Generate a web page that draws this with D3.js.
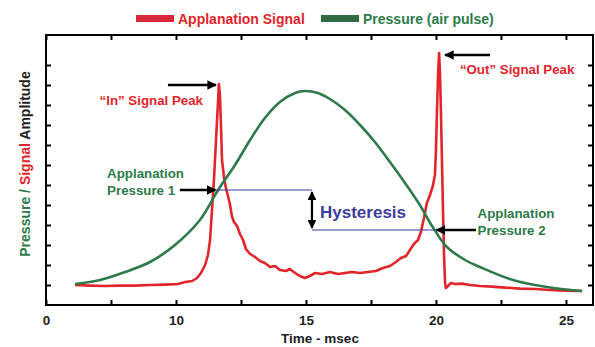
<!DOCTYPE html>
<html><head><meta charset="utf-8">
<script src="https://cdn.jsdelivr.net/npm/d3@7"></script>
<style>
html,body{margin:0;padding:0;background:#fff;}
svg{display:block;font-family:"Liberation Sans",Arial,Helvetica,sans-serif;}
</style></head>
<body>
<svg id="chart" width="595" height="347"></svg>
<script>
// ---- data ----
const seriesNames = ["Applanation Signal", "Pressure (air pulse)"];
const xTickValues = [5, 7.5, 10, 12.5, 15, 17.5, 20, 22.5, 25];
const xTickLabels = ["0", "", "10", "", "15", "", "20", "", "25"];
const yTickValues = [1,2,3,4,5,6,7,8,9,10,11,12];

const redTime = [6.12,6.69,7.27,7.85,8.42,9.0,9.58,10.08,10.35,10.62,10.81,10.96,11.12,11.23,11.31,11.38,11.46,11.54,11.62,11.65,11.69,11.73,11.77,11.85,11.92,12.0,12.08,12.15,12.23,12.35,12.46,12.58,12.69,12.85,13.04,13.23,13.42,13.62,13.81,14.0,14.23,14.38,14.58,14.77,14.96,15.15,15.35,15.62,15.92,16.23,16.5,16.77,17.08,17.38,17.69,17.96,18.23,18.46,18.65,18.85,19.0,19.15,19.31,19.42,19.54,19.65,19.77,19.88,19.96,20.0,20.04,20.08,20.12,20.15,20.19,20.23,20.27,20.31,20.35,20.38,20.46,20.58,20.73,21.0,21.31,21.69,22.15,22.65,23.23,23.81,24.38,24.96,25.62];
const redAmp  = [1.0,0.97,0.95,0.97,0.97,1.0,1.02,1.05,1.15,1.2,1.35,1.6,2.0,2.5,3.25,4.65,6.25,8.25,10.25,11.05,10.5,9.0,7.25,6.35,5.85,5.45,5.0,4.45,4.15,3.95,3.55,3.25,2.8,2.55,2.4,2.2,2.1,1.9,1.95,1.75,1.7,1.8,1.6,1.45,1.35,1.45,1.6,1.55,1.65,1.55,1.6,1.65,1.6,1.65,1.7,1.85,1.95,2.15,2.35,2.45,2.75,3.05,3.25,3.65,4.35,5.1,5.5,5.95,6.5,7.75,9.75,11.5,12.6,11.75,9.75,7.25,4.75,2.5,1.1,0.85,0.95,1.1,1.05,1.07,1.0,0.95,0.92,0.87,0.82,0.8,0.75,0.72,0.7];

const greenTime = [6.12,7.08,8.04,9.0,9.96,10.92,11.62,12.27,12.85,13.42,14.0,14.58,14.96,15.46,15.92,16.5,17.08,17.65,18.23,18.81,19.38,19.85,20.42,21.12,21.69,22.96,24.27,25.62];
const greenAmp  = [1.05,1.25,1.65,2.15,3.0,4.25,5.75,7.0,8.25,9.35,10.15,10.6,10.7,10.6,10.3,9.75,9.0,8.15,7.15,6.1,5.0,3.95,2.9,2.25,1.9,1.25,0.9,0.7];

const inPeak = {t: 11.65, v: 11.0};
const outPeak = {t: 20.12, v: 12.5};
const appPressure = [5.75, 3.75];
const appTimes = [11.54, 20.0];

// ---- layout ----
const W = 595, H = 347;
const L = 46, R = 593, T = 35, B = 305;
const RED = "#e2252b", GREEN = "#2e7a4b", BLUE = "#3c3c9c";

const svg = d3.select("#chart");
const x = d3.scaleLinear().domain([5, 26.04]).range([L, R]);
const y = d3.scaleLinear().domain([0, 13.5]).range([B, T]);

const defs = svg.append("defs");
defs.append("marker").attr("id","ah").attr("viewBox","0 0 10 10")
  .attr("refX",9).attr("refY",5).attr("markerWidth",4).attr("markerHeight",4)
  .attr("orient","auto-start-reverse")
  .append("path").attr("d","M0,0L10,5L0,10Z").attr("fill","#000");

// axes (inward ticks)
const fmt = d => xTickLabels[xTickValues.indexOf(d)];
const gx = svg.append("g").attr("transform",`translate(0,${B})`)
  .call(d3.axisBottom(x).tickValues(xTickValues).tickFormat(fmt).tickSizeInner(-5).tickSizeOuter(0).tickPadding(10));
const gxt = svg.append("g").attr("transform",`translate(0,${T})`)
  .call(d3.axisTop(x).tickValues(xTickValues).tickFormat("").tickSizeInner(-5).tickSizeOuter(0));
const gy = svg.append("g").attr("transform",`translate(${L},0)`)
  .call(d3.axisLeft(y).tickValues(yTickValues).tickFormat("").tickSizeInner(-5).tickSizeOuter(0));
const gyr = svg.append("g").attr("transform",`translate(${R},0)`)
  .call(d3.axisRight(y).tickValues(yTickValues).tickFormat("").tickSizeInner(-5).tickSizeOuter(0));
[gx,gxt,gy,gyr].forEach(g=>{
  g.select(".domain").remove();
  g.selectAll(".tick line").attr("stroke","#000").attr("stroke-width",2);
});
gx.selectAll(".tick text").attr("font-size",13.5).attr("font-weight","bold").attr("fill","#222")
  .attr("font-family","'Liberation Sans',Arial,sans-serif");

// series
const redData = redTime.map((t,i)=>[t, redAmp[i]]);
const greenData = greenTime.map((t,i)=>[t, greenAmp[i]]);
svg.append("path").datum(redData)
  .attr("d", d3.line().x(d=>x(d[0])).y(d=>y(d[1])).curve(d3.curveLinear))
  .attr("fill","none").attr("stroke",RED).attr("stroke-width",2.6).attr("stroke-linejoin","round");
svg.append("path").datum(greenData)
  .attr("d", d3.line().x(d=>x(d[0])).y(d=>y(d[1])).curve(d3.curveCatmullRom))
  .attr("fill","none").attr("stroke",GREEN).attr("stroke-width",2.6);

// frame
svg.append("rect").attr("x",L).attr("y",T).attr("width",R-L).attr("height",B-T)
  .attr("fill","none").attr("stroke","#000").attr("stroke-width",2);

// hysteresis lines
const midT = 15.23;
svg.append("path")
  .attr("d",`M${x(appTimes[0])},${y(appPressure[0])}H${x(midT)}M${x(midT)},${y(appPressure[1])}H${x(appTimes[1])}`)
  .attr("fill","none").attr("stroke",BLUE).attr("stroke-width",1.2);
svg.append("line").attr("x1",x(midT)).attr("x2",x(midT))
  .attr("y1",y(appPressure[0])+2).attr("y2",y(appPressure[1])-2)
  .attr("stroke","#000").attr("stroke-width",2.2)
  .attr("marker-start","url(#ah)").attr("marker-end","url(#ah)");
svg.append("text").attr("x",x(15.54)).attr("y",y(4.65)).attr("dy","0.35em")
  .attr("fill",BLUE).attr("font-size",17).attr("font-weight","bold").text("Hysteresis");

// arrows
function arrow(t1,v1,t2,v2){
  svg.append("line").attr("x1",x(t1)).attr("y1",y(v1)).attr("x2",x(t2)).attr("y2",y(v2))
    .attr("stroke","#000").attr("stroke-width",2.4).attr("marker-end","url(#ah)");
}
arrow(9.69, inPeak.v, 11.54, inPeak.v);
arrow(22.08, outPeak.v, 20.35, outPeak.v);
arrow(10.15, appPressure[0], appTimes[0]-0.02, appPressure[0]);
arrow(21.54, appPressure[1], appTimes[1]+0.02, appPressure[1]);

// annotation texts
function label(t, v, txt, color, anchor){
  svg.append("text").attr("x",x(t)).attr("y",y(v)).attr("dy","0.35em")
    .attr("text-anchor",anchor||"start").attr("fill",color)
    .attr("font-size",13.3).attr("font-weight","bold").text(txt);
}
label(11.04, 10.25, "\u201CIn\u201D Signal Peak", RED, "end");
label(20.92, 11.8, "\u201COut\u201D Signal Peak", RED);
label(7.35, 6.6, "Applanation", GREEN);
label(7.35, 5.75, "Pressure 1", GREEN);
label(21.6, 4.6, "Applanation", GREEN);
label(21.6, 3.75, "Pressure 2", GREEN);

// legend
const lg = svg.append("g");
lg.append("rect").attr("x",136).attr("y",15).attr("width",38).attr("height",7).attr("fill","#d8283a");
lg.append("text").attr("x",178).attr("y",19).attr("dy","0.35em").attr("fill",RED)
  .attr("font-size",14).attr("font-weight","bold").text(seriesNames[0]);
lg.append("rect").attr("x",321).attr("y",15).attr("width",38).attr("height",7).attr("fill","#2f6a45");
lg.append("text").attr("x",363).attr("y",19).attr("dy","0.35em").attr("fill",GREEN)
  .attr("font-size",14).attr("font-weight","bold").text(seriesNames[1]);

// axis titles
svg.append("text").attr("x",320).attr("y",338).attr("dy","0.35em").attr("text-anchor","middle")
  .attr("font-size",13.5).attr("font-weight","bold").attr("fill","#222").text("Time - msec");
const yt = svg.append("text").attr("transform",`translate(25,${(T+B)/2 - 6}) rotate(-90)`)
  .attr("text-anchor","middle").attr("dy","0.35em").attr("font-size",14).attr("font-weight","bold");
yt.append("tspan").attr("fill",GREEN).text("Pressure / ");
yt.append("tspan").attr("fill",RED).text("Signal ");
yt.append("tspan").attr("fill","#222").text("Amplitude");
</script>
</body></html>
